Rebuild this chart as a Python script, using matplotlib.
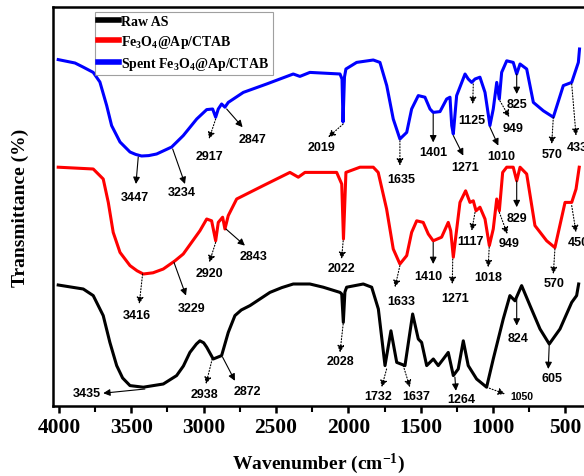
import matplotlib
matplotlib.use("Agg")
import matplotlib.pyplot as plt
from matplotlib.ticker import MultipleLocator

plt.rcParams["mathtext.default"] = "regular"

# FTIR spectra, transmittance in arbitrary offset units
raw_wn = [4005, 3832, 3763, 3694, 3648, 3601, 3560, 3509, 3417, 3279, 3187, 3140, 3095, 3050, 3026,
          3000, 2979, 2934, 2876, 2830, 2784, 2740, 2680, 2542, 2460, 2381, 2266, 2174, 2058, 2046,
          2035, 2024, 2012, 1897, 1839, 1793, 1747, 1706, 1666, 1609, 1556, 1517, 1494, 1459, 1413,
          1379, 1344, 1310, 1275, 1241, 1206, 1172, 1114, 1045, 999, 930, 884, 849, 803, 745,
          676, 612, 538, 457, 423, 409]
raw_t = [30.25, 29.25, 27.6, 22.6, 15.9, 10.1, 7.0, 5.1, 4.7, 5.5, 7.6, 10.0, 13.4, 15.5, 16.3,
         15.8, 14.7, 11.75, 12.6, 18.4, 22.6, 24.0, 25.1, 28.4, 29.6, 30.5, 30.5, 29.7, 28.4, 28.0,
         20.9, 28.5, 29.7, 30.5, 29.7, 24.25, 10.1, 18.8, 10.9, 10.1, 23.0, 16.75, 15.9, 10.1, 11.75,
         10.1, 11.75, 13.4, 7.6, 9.25, 16.3, 10.1, 6.75, 4.7, 11.75, 21.75, 27.6, 26.3, 30.1, 25.1,
         19.25, 15.5, 19.25, 25.9, 27.6, 30.5]

fresh_wn = [4005, 3763, 3694, 3659, 3625, 3578, 3509, 3460, 3417, 3350, 3279, 3198, 3141, 3026, 2979,
            2945, 2917, 2899, 2869, 2853, 2830, 2772, 2588, 2404, 2346, 2300, 2081, 2046, 2034, 2017,
            1920, 1828, 1794, 1736, 1690, 1644, 1597, 1563, 1528, 1483, 1448, 1414, 1356, 1310, 1293,
            1275, 1257, 1229, 1190, 1160, 1137, 1118, 1091, 1056, 1026, 999, 975, 957, 934, 906,
            861, 837, 814, 768, 711, 630, 573, 503, 457, 427, 405]
fresh_t = [59.7, 59.25, 56.75, 50.9, 43.4, 38.4, 35.1, 33.8, 33.0, 33.3, 34.25, 36.3, 38.0, 43.8, 46.75,
           46.3, 41.3, 45.9, 47.2, 44.25, 47.6, 51.75, 55.1, 58.4, 57.2, 58.4, 58.4, 55.5, 41.75, 58.4,
           59.7, 59.7, 58.4, 49.25, 39.25, 35.5, 37.6, 43.4, 46.3, 45.9, 43.0, 41.3, 42.2, 45.9, 43.8,
           37.2, 42.6, 50.9, 53.8, 50.9, 51.3, 48.8, 49.7, 46.75, 40.1, 44.25, 51.75, 48.8, 58.4, 59.7,
           59.7, 56.3, 59.7, 58.0, 45.1, 41.3, 39.6, 50.9, 50.9, 54.25, 59.7]

spent_wn = [4005, 3889, 3834, 3763, 3717, 3670, 3636, 3578, 3509, 3470, 3429, 3380, 3325, 3221, 3141,
            3048, 2979, 2938, 2917, 2899, 2876, 2853, 2830, 2726, 2565, 2381, 2335, 2266, 2058, 2044,
            2037, 2027, 2017, 1943, 1828, 1782, 1735, 1690, 1644, 1597, 1563, 1517, 1471, 1436, 1414,
            1367, 1321, 1298, 1286, 1275, 1252, 1194, 1172, 1148, 1125, 1091, 1056, 1022, 999, 975,
            957, 941, 906, 861, 837, 814, 768, 722, 653, 584, 515, 457, 411, 403]
spent_t = [86.6, 85.75, 84.75, 83.4, 81.0, 75.1, 70.1, 66.0, 63.5, 62.9, 62.5, 62.6, 63.0, 64.75, 67.6,
           71.75, 74.1, 74.25, 72.2, 74.25, 75.5, 74.7, 75.9, 78.4, 80.5, 83.0, 82.4, 83.4, 83.0, 81.75,
           71.0, 82.25, 84.25, 85.9, 86.5, 85.9, 80.1, 71.75, 66.75, 68.4, 74.25, 77.6, 77.2, 74.25, 73.4,
           73.6, 76.75, 77.2, 70.1, 68.0, 77.6, 83.0, 81.75, 80.9, 81.75, 82.2, 78.4, 70.1, 74.25, 80.9,
           76.75, 83.4, 86.3, 85.9, 83.0, 85.5, 84.25, 75.9, 73.8, 72.2, 80.1, 80.9, 85.9, 89.25]

series_labels = ["Raw AS", "Fe$_3$O$_4$@Ap/CTAB", "Spent Fe$_3$O$_4$@Ap/CTAB"]
series_colors = ["black", "#ff0000", "#0000ff"]

# peak labels: text, arrow tail (on curve), arrow head, text centre, dotted arrow
peak_labels = [
    # spent
    ("3447", 3452, 62.25, 3468, 55.5, 3475, 52.2, False),
    ("3234", 3214, 64.25, 3129, 55.5, 3152, 53.4, False),
    ("2917", 2917, 71.75, 2963, 66.75, 2957, 62.4, True),
    ("2847", 2841, 74.25, 2731, 69.7, 2662, 66.75, False),
    ("2019", 2036, 70.5, 2139, 67.2, 2185, 64.7, True),
    ("1635", 1644, 66.3, 1644, 60.1, 1633, 56.75, True),
    ("1401", 1414, 73.0, 1414, 65.9, 1414, 63.4, False),
    ("1271", 1275, 67.6, 1206, 62.6, 1194, 59.7, False),
    ("1125", 1137, 80.5, 1141, 75.5, 1148, 71.6, True),
    ("1010", 1022, 69.7, 964, 65.1, 941, 62.4, False),
    ("949", 953, 76.3, 888, 72.2, 865, 69.4, True),
    ("825", 837, 83.0, 837, 78.0, 833, 75.5, False),
    ("570", 584, 72.2, 595, 65.5, 595, 63.0, True),
    ("433", 457, 80.5, 427, 67.6, 421, 64.7, True),
    # fresh
    ("3416", 3422, 33.0, 3445, 25.5, 3459, 22.75, True),
    ("3229", 3205, 35.9, 3122, 27.6, 3083, 24.4, False),
    ("2920", 2917, 40.9, 2961, 35.9, 2957, 33.25, True),
    ("2843", 2846, 44.25, 2715, 40.1, 2653, 37.6, False),
    ("2022", 2036, 41.3, 2047, 36.75, 2047, 34.4, True),
    ("1633", 1644, 35.1, 1678, 29.7, 1632, 26.3, True),
    ("1410", 1414, 40.9, 1414, 35.5, 1448, 32.4, False),
    ("1271", 1279, 36.75, 1282, 30.5, 1264, 26.9, True),
    ("1117", 1125, 48.4, 1148, 43.8, 1155, 41.3, True),
    ("1018", 1027, 39.7, 1034, 34.7, 1034, 32.2, True),
    ("949", 957, 48.4, 902, 43.0, 888, 40.75, True),
    ("829", 837, 56.3, 837, 49.7, 833, 46.9, False),
    ("570", 573, 39.25, 584, 33.0, 580, 30.75, True),
    ("450", 457, 50.1, 427, 43.4, 414, 41.1, True),
    # raw
    ("3435", 3406, 4.25, 3694, 3.2, 3809, 3.25, False),
    ("2938", 2941, 11.75, 2984, 5.5, 2998, 3.0, True),
    ("2872", 2869, 12.2, 2784, 6.3, 2699, 3.8, False),
    ("2028", 2036, 20.5, 2058, 13.4, 2053, 11.2, True),
    ("1732", 1736, 9.25, 1770, 4.7, 1794, 2.6, True),
    ("1637", 1621, 10.1, 1575, 4.7, 1533, 2.6, True),
    ("1264", 1264, 7.2, 1257, 3.8, 1217, 1.75, False),
    ("1050", 1045, 4.7, 918, 3.0, 803, 2.6, True),
    ("824", 837, 26.75, 837, 20.1, 826, 16.9, False),
    ("605", 612, 15.5, 619, 9.25, 595, 7.0, False),
]

serif = "Liberation Serif"

fig = plt.figure(figsize=(5.84, 4.77), dpi=100)
ax = fig.add_axes([53 / 584, 70 / 477, 531 / 584, 399 / 477])

for wn, t, lab, col in zip([raw_wn, fresh_wn, spent_wn], [raw_t, fresh_t, spent_t],
                           series_labels, series_colors):
    ax.plot(wn, t, color=col, lw=2.2, label=lab, solid_joinstyle="round")

for text, x0, y0, x1, y1, tx, ty, dotted in peak_labels:
    ax.annotate("", xy=(x1, y1), xytext=(x0, y0),
                arrowprops=dict(arrowstyle="-|>", color="black", lw=0.8,
                                linestyle=":" if dotted else "-",
                                mutation_scale=10, shrinkA=0, shrinkB=0))
    size = 7.5 if text == "1050" else 9
    ax.text(tx, ty, text, ha="center", va="center", fontsize=size,
            fontweight="bold", family="Liberation Sans", clip_on=False)

ax.set_xlim(4041, 372)
ax.set_ylim(0, 99.75)
ax.xaxis.set_major_locator(MultipleLocator(500))
ax.xaxis.set_minor_locator(MultipleLocator(250))
ax.set_yticks([])
ax.tick_params(axis="x", which="major", length=5, width=1.8, pad=3)
ax.tick_params(axis="x", which="minor", length=4, width=1.5)
for lbl in ax.get_xticklabels():
    lbl.set_fontfamily(serif)
    lbl.set_fontweight("bold")
    lbl.set_fontsize(15.5)

for side in ["left", "bottom", "top"]:
    ax.spines[side].set_linewidth(1.8)
ax.spines["right"].set_visible(False)

ax.set_xlabel("Wavenumber (cm$^{-1}$)", family=serif, fontweight="bold", fontsize=14, labelpad=10)
ax.set_ylabel("Transmittance (%)", family=serif, fontweight="bold", fontsize=14)
ax.yaxis.set_label_coords(-0.045, 0.5)

leg = ax.legend(loc="upper left", bbox_to_anchor=(0.079, 0.988), fancybox=False,
                prop=dict(family=serif, weight="bold", size=10), handlelength=1.5,
                handletextpad=0.15, labelspacing=0.35, borderpad=0.25, borderaxespad=0)
leg.get_frame().set_edgecolor("#888888")
leg.get_frame().set_linewidth(0.8)
for line in leg.get_lines():
    line.set_linewidth(4)

fig.savefig("out.png", dpi=100)
